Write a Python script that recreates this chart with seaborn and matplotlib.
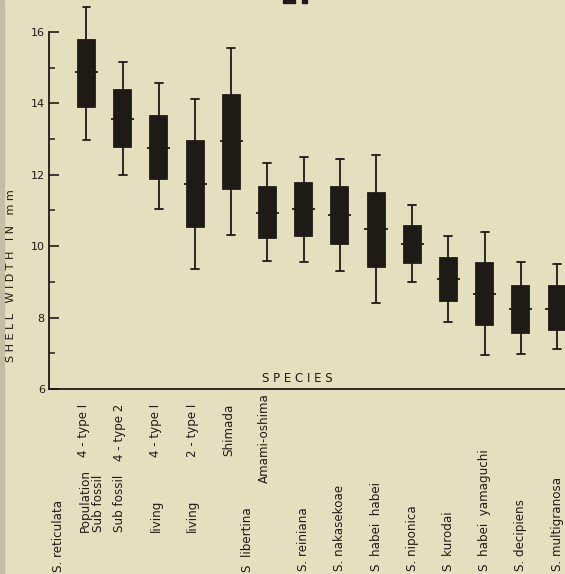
import matplotlib
matplotlib.use("Agg")
import matplotlib.pyplot as plt
import matplotlib.transforms as mtransforms
import numpy as np
import pandas as pd
import seaborn as sns

# five-number summaries (mm)
groups = [
    "Population 4-type I", "Sub fossil 4-type 2", "living 4-type I",
    "living 2-type I", "Shimada", "Amami-oshima", "S. reiniana",
    "S. nakasekoae", "S habei habei", "S. niponica", "S kurodai",
    "S habei yamaguchi", "S. decipiens", "S. multigranosa",
]
whisk_lo = [12.97, 11.98, 11.03, 9.35, 10.31, 9.58, 9.55, 9.31, 8.42, 9.01, 7.87, 6.96, 6.99, 7.11]
q1 = [13.89, 12.77, 11.89, 10.55, 11.61, 10.24, 10.29, 10.06, 9.43, 9.53, 8.46, 7.79, 7.57, 7.65]
median = [14.87, 13.56, 12.76, 11.73, 12.94, 10.94, 11.04, 10.87, 10.48, 10.07, 9.08, 8.67, 8.25, 8.25]
q3 = [15.76, 14.38, 13.65, 12.94, 14.23, 11.65, 11.78, 11.65, 11.50, 10.57, 9.67, 9.53, 8.89, 8.89]
whisk_hi = [16.71, 15.15, 14.56, 14.12, 15.56, 12.34, 12.49, 12.43, 12.54, 11.15, 10.29, 10.40, 9.57, 9.49]

# rotated labels under the axis
first_words = ["Population\nSub fossil", "Sub fossil", "living", "living"]
type_parts = ["4 - type I", "4 - type 2", "4 - type I", "2 - type I", "Shimada", "Amami-oshima"]
species_names = ["S. reiniana", "S. nakasekoae", "S  habei  habei", "S. niponica",
                 "S  kurodai", "S  habei  yamaguchi", "S. decipiens", "S. multigranosa"]
group_species = ["S. reticulata", "S  libertina"]

BG = "#e4e0bf"
INK = "#1e1a16"
W, H = 565, 574

rows = []
for g, a, b, c, d, e in zip(groups, whisk_lo, q1, median, q3, whisk_hi):
    for v in (a, b, c, d, e):
        rows.append({"group": g, "width": v})
df = pd.DataFrame(rows)

sns.set_style("ticks")
plt.rcParams["font.family"] = ["DejaVu Sans"]

fig = plt.figure(figsize=(W / 100, H / 100), dpi=100)
fig.patch.set_facecolor(BG)
ax = fig.add_axes([49 / W, 185 / H, 516 / W, 387.5 / H])
ax.set_facecolor(BG)

sns.boxplot(
    data=df, x="group", y="width", order=groups, ax=ax,
    whis=(0, 100), width=0.47, color=INK, linecolor=INK, saturation=1,
    linewidth=1.3, capwidths=0.22, showfliers=False,
)
xs = np.arange(len(groups))
ax.hlines(median, xs - 0.32, xs + 0.32, color=INK, lw=1.3, zorder=5)
for ln in ax.lines:
    ln.set_clip_on(False)
for p in ax.patches:
    p.set_clip_on(False)

ax.set_xlim(-1.036, 13.22)
ax.set_ylim(6, 16.85)
ax.set_xlabel("")
ax.set_ylabel("")
ax.set_yticks([6, 8, 10, 12, 14, 16])
ax.set_yticks([7, 9, 11, 13, 15], minor=True)
ax.tick_params(axis="y", which="major", direction="in", length=7, width=1.2,
               color=INK, labelcolor=INK, labelsize=8, pad=3)
ax.tick_params(axis="y", which="minor", direction="in", length=4, width=1.1, color=INK)
ax.tick_params(axis="x", length=0, labelbottom=False)
for s in ("top", "right"):
    ax.spines[s].set_visible(False)
ax.spines["left"].set_bounds(6, 16)
for s in ("left", "bottom"):
    ax.spines[s].set_color(INK)
    ax.spines[s].set_linewidth(1.3)

ax.text(297 / W, 1 - 378 / H, "S P E C I E S", transform=fig.transFigure,
        ha="center", va="center", fontsize=8.5, color=INK)
fig.text(11 / W, 1 - 276 / H, "S H E L L   W I D T H   I N   m m", rotation=90,
         ha="center", va="center", fontsize=8, color=INK)

tr = mtransforms.blended_transform_factory(ax.transData, fig.transFigure)
lab = dict(rotation=90, fontsize=8.6, color=INK, transform=tr, ha="center")
ax.text(xs[0] + 0.15, 1 - 532 / H, first_words[0], va="bottom", multialignment="left",
        linespacing=1.0, **lab)
for i, word in enumerate(first_words[1:], start=1):
    ax.text(xs[i] - 0.08, 1 - 532 / H, word, va="bottom", **lab)
for i, part in enumerate(type_parts):
    top = 393 if part == "Amami-oshima" else 404
    ax.text(xs[i] - 0.08, 1 - top / H, part, va="top", **lab)
for i, name in enumerate(species_names, start=6):
    ax.text(xs[i], 1 - 571 / H, name, va="bottom", **lab)
ax.text(xs[0] - 0.78, 1 - 572 / H, group_species[0], va="bottom", **lab)
ax.text(xs[4] + 0.45, 1 - 572 / H, group_species[1], va="bottom", **lab)

# scan edge and the clipped remains of the panel letter at the top
fig.patches.append(plt.Rectangle((0, 0), 4 / W, 1, transform=fig.transFigure,
                                 color="#c2bfa6", zorder=0))
fig.patches.append(plt.Rectangle((283 / W, 1 - 3 / H), 12 / W, 3 / H,
                                 transform=fig.transFigure, color=INK))
fig.patches.append(plt.Rectangle((302 / W, 1 - 3 / H), 5 / W, 3 / H,
                                 transform=fig.transFigure, color=INK))

fig.savefig("out.png", dpi=100, facecolor=BG)
plt.close(fig)
